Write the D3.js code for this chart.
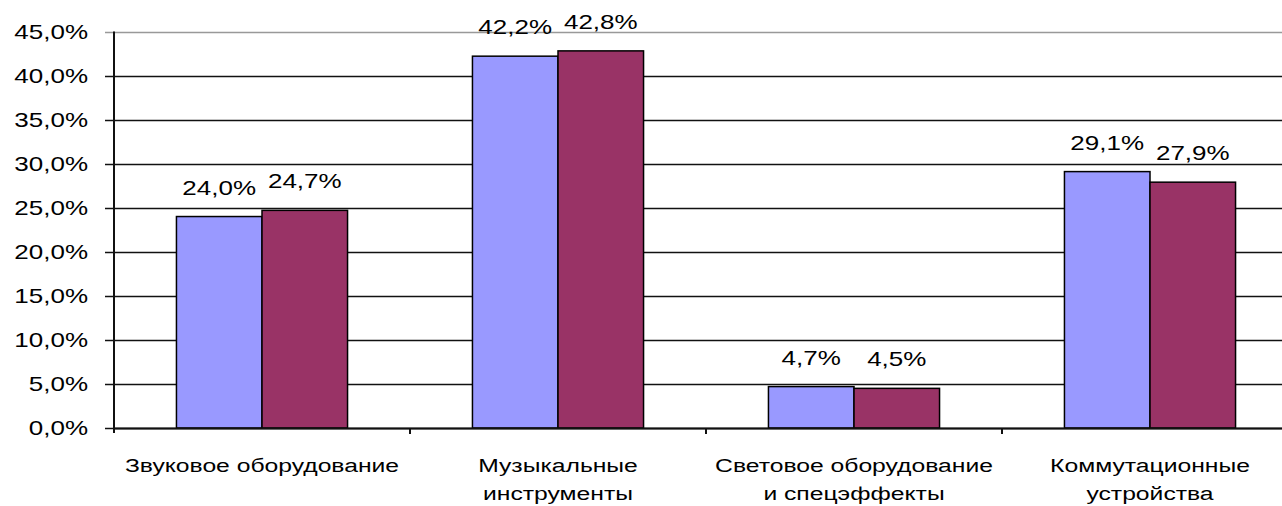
<!DOCTYPE html>
<meta charset="utf-8">
<style>
body { margin: 0; background: #fff; }
text { font-family: "Liberation Sans", Arial, sans-serif; fill: #000; }
</style>
<svg id="chart" width="1282" height="506"></svg>
<script src="https://d3js.org/d3.v7.min.js"></script>
<script>

var categories = [
	["Звуковое оборудование"],
	["Музыкальные", "инструменты"],
	["Световое оборудование", "и спецэффекты"],
	["Коммутационные", "устройства"]
];
var seriesA = [24.0, 42.2, 4.7, 29.1];
var seriesB = [24.7, 42.8, 4.5, 27.9];
var yTicks = [0, 5, 10, 15, 20, 25, 30, 35, 40, 45];
var colors = ["#9999ff", "#993366"];

var svg = d3.select("svg#chart"),
	plotLeft = 114,
	plotTop = 31.5,
	plotBottom = 428,
	step = 296,
	stretch = 1.3;

var x = d3.scaleBand()
	.domain(d3.range(categories.length))
	.range([plotLeft, plotLeft + step * categories.length])
	.paddingInner(0)
	.paddingOuter(0);

var inner = d3.scaleBand()
	.domain([0, 1])
	.range([0, step])
	.paddingInner(0)
	.paddingOuter(0.73);

var y = d3.scaleLinear()
	.domain([0, 45])
	.range([plotBottom, plotTop]);

var fmt = function(v) { return d3.format(".1f")(v).replace(".", ",") + "%"; };

// gridlines
svg.append("g").selectAll("line")
	.data(yTicks)
	.enter().append("line")
		.attr("x1", plotLeft - 9)
		.attr("x2", 1282)
		.attr("y1", function(d) { return Math.round(y(d)) + 0.5; })
		.attr("y2", function(d) { return Math.round(y(d)) + 0.5; })
		.attr("stroke", function(d) { return d === 45 ? "#999" : "#111"; })
		.attr("stroke-width", 1.5);

// y labels
svg.append("g").selectAll("text")
	.data(yTicks)
	.enter().append("text")
		.attr("transform", function(d) { return "translate(88," + (y(d) + 7) + ") scale(" + stretch + ",1)"; })
		.attr("text-anchor", "end")
		.style("font-size", "20px")
		.text(fmt);

// bars
var series = [seriesA, seriesB];
series.forEach(function(vals, s) {
	svg.append("g").selectAll("rect")
		.data(vals)
		.enter().append("rect")
			.attr("x", function(d, i) { return x(i) + inner(s); })
			.attr("y", function(d) { return y(d); })
			.attr("width", inner.bandwidth())
			.attr("height", function(d) { return plotBottom - y(d); })
			.attr("fill", colors[s])
			.attr("stroke", "#000")
			.attr("stroke-width", 1.5);

	svg.append("g").selectAll("text")
		.data(vals)
		.enter().append("text")
			.attr("transform", function(d, i) {
				return "translate(" + (x(i) + inner(s) + inner.bandwidth() / 2) + "," + (y(d) - 22) + ") scale(" + stretch + ",1)";
			})
			.attr("text-anchor", "middle")
			.style("font-size", "20px")
			.text(fmt);
});

// axes
svg.append("line")
	.attr("x1", plotLeft).attr("x2", plotLeft)
	.attr("y1", plotTop).attr("y2", plotBottom + 5)
	.attr("stroke", "#111").attr("stroke-width", 2);
svg.append("line")
	.attr("x1", plotLeft).attr("x2", 1282)
	.attr("y1", plotBottom + 0.5).attr("y2", plotBottom + 0.5)
	.attr("stroke", "#111").attr("stroke-width", 2);
svg.append("g").selectAll("line")
	.data(d3.range(categories.length))
	.enter().append("line")
		.attr("x1", function(d) { return x(d) + step; })
		.attr("x2", function(d) { return x(d) + step; })
		.attr("y1", plotBottom).attr("y2", plotBottom + 6)
		.attr("stroke", "#111").attr("stroke-width", 2);

// category labels
var cat = svg.append("g").selectAll("g")
	.data(categories)
	.enter().append("g")
		.attr("transform", function(d, i) { return "translate(" + (x(i) + step / 2) + ",472)"; });
cat.selectAll("text")
	.data(function(d) { return d; })
	.enter().append("text")
		.attr("transform", function(d, j) { return "translate(0," + (j * 28) + ") scale(" + stretch + ",1)"; })
		.attr("text-anchor", "middle")
		.style("font-size", "19px")
		.text(function(d) { return d; });

</script>
